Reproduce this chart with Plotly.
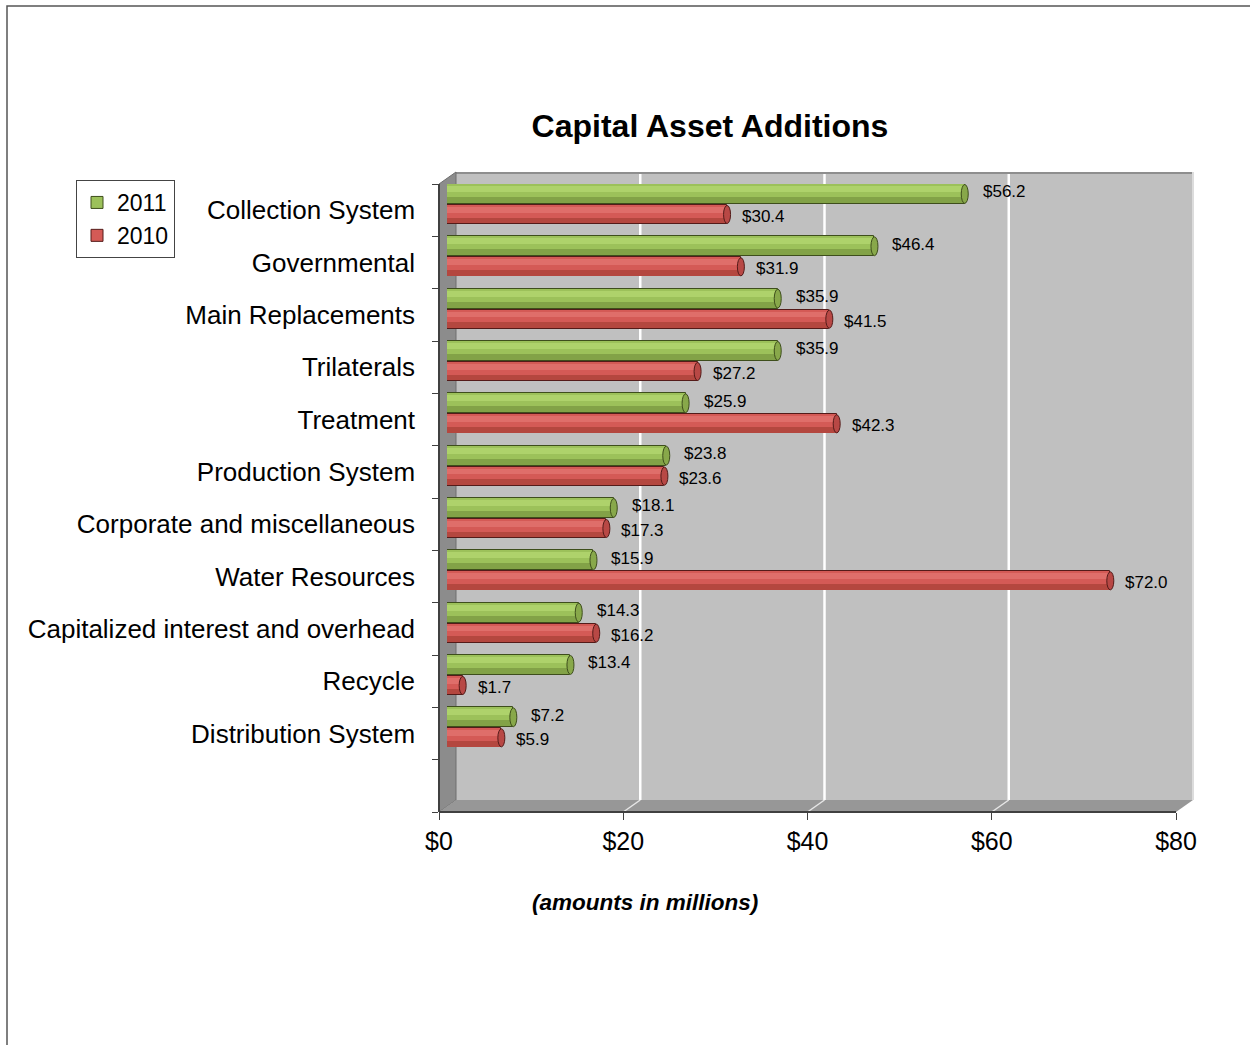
import plotly.graph_objects as go

# ---------------- data ----------------
categories = ["Collection System", "Governmental", "Main Replacements", "Trilaterals",
              "Treatment", "Production System", "Corporate and miscellaneous",
              "Water Resources", "Capitalized interest and overhead", "Recycle",
              "Distribution System"]
values_2011 = [56.2, 46.4, 35.9, 35.9, 25.9, 23.8, 18.1, 15.9, 14.3, 13.4, 7.2]
values_2010 = [30.4, 31.9, 41.5, 27.2, 42.3, 23.6, 17.3, 72.0, 16.2, 1.7, 5.9]
series_names = ["2011", "2010"]
x_tick_values = [0, 20, 40, 60, 80]
x_tick_labels = ["$0", "$20", "$40", "$60", "$80"]
gridline_values = [20, 40, 60]

# ---------------- geometry / style ----------------
W, H = 1250, 1045
FONT = "Liberation Sans, Arial, sans-serif"
XMAX = 80
N_SLOTS = len(categories) + 1          # Excel leaves one empty slot at the bottom
positions = list(range(len(categories)))

FRONT_X0, FRONT_X1 = 439, 1176
BACK_X0, BACK_X1 = 456, 1193
FRONT_Y, BACK_Y = 812, 800
TOP_FRONT, TOP_BACK = 184, 172
BAR_X0 = 447
SCALE = (FRONT_X1 - FRONT_X0) / XMAX
BAR_X1 = BAR_X0 + SCALE * XMAX


def px(x):
    return x / W


def py(y):
    return 1 - y / H


series = [
    dict(name=series_names[0], values=values_2011, off=-0.5, w=0.38,
         main="#9CC15A", light="#AED26B", dark="#82A247", edge="#3E4E1C", cap="#88A84A",
         xshift=16, yshift=2),
    dict(name=series_names[1], values=values_2010, off=-0.1, w=0.365,
         main="#D45A56", light="#DF6E6A", dark="#B4473F", edge="#541B19", cap="#B84845",
         xshift=13, yshift=-2),
]

layers = [  # (start fraction, width fraction, colour key, outline)
    (0.0, 1.0, "main", True),
    (0.66, 0.30, "dark", False),
    (0.10, 0.30, "light", False),
]

fig = go.Figure()
shapes = []
annotations = []

for s in series:
    for li, (f0, fw, ck, outline) in enumerate(layers):
        fig.add_trace(go.Bar(
            x=s["values"], y=positions, orientation="h",
            offset=s["off"] + f0 * s["w"], width=fw * s["w"],
            marker=dict(color=s[ck],
                        line=dict(color=s["edge"], width=1 if outline else 0)),
            name=s["name"], legendgroup=s["name"], showlegend=(li == 0),
            hoverinfo="skip", xaxis="x", yaxis="y"))
    for v, p in zip(s["values"], positions):
        shapes.append(dict(type="circle", xref="x", yref="y", xsizemode="pixel",
                           xanchor=v, x0=-3.5, x1=3.5,
                           y0=p + s["off"] + 0.01, y1=p + s["off"] + s["w"] - 0.01,
                           fillcolor=s["cap"], line=dict(color=s["edge"], width=1),
                           layer="above"))
        annotations.append(dict(x=v, y=p + s["off"] + s["w"] / 2, xref="x", yref="y",
                                text=f"${v:.1f}", showarrow=False, xanchor="left",
                                yanchor="middle", xshift=s["xshift"], yshift=s["yshift"],
                                font=dict(size=17, family=FONT, color="black")))

# dummy trace so the tick axis subplot exists
fig.add_trace(go.Scatter(x=[None], y=[None], xaxis="x2", yaxis="y",
                         showlegend=False, hoverinfo="skip"))

# ---- 3D walls (chart furniture) ----
def path(pts):
    return "M " + " L ".join(f"{px(a)},{py(b)}" for a, b in pts) + " Z"

shapes_below = [
    dict(type="rect", xref="paper", yref="paper", x0=px(BACK_X0), x1=px(BACK_X1),
         y0=py(BACK_Y), y1=py(TOP_BACK), fillcolor="#C0C0C0", line=dict(width=0), layer="below"),
    dict(type="line", xref="paper", yref="paper", x0=px(BACK_X0), x1=px(BACK_X1),
         y0=py(TOP_BACK + 1), y1=py(TOP_BACK + 1), line=dict(color="#8E8E8E", width=2), layer="below"),
    dict(type="line", xref="paper", yref="paper", x0=px(BACK_X1), x1=px(BACK_X1),
         y0=py(TOP_BACK), y1=py(BACK_Y), line=dict(color="#DCDCDC", width=2), layer="below"),
    dict(type="path", xref="paper", yref="paper",
         path=path([(FRONT_X0, TOP_FRONT), (BACK_X0, TOP_BACK), (BACK_X0, BACK_Y), (FRONT_X0, FRONT_Y)]),
         fillcolor="#8C8C8C", line=dict(color="#6E6E6E", width=1), layer="below"),
    dict(type="path", xref="paper", yref="paper",
         path=path([(FRONT_X0, FRONT_Y), (BACK_X0, BACK_Y), (BACK_X1, BACK_Y), (FRONT_X1, FRONT_Y)]),
         fillcolor="#979797", line=dict(width=0), layer="below"),
]
for g in gridline_values:
    bx = BACK_X0 + g * SCALE
    fx = FRONT_X0 + g * SCALE
    shapes_below.append(dict(type="line", xref="paper", yref="paper", x0=px(bx), x1=px(bx),
                             y0=py(TOP_BACK + 2), y1=py(BACK_Y), line=dict(color="white", width=2.5),
                             layer="below"))
    shapes_below.append(dict(type="line", xref="paper", yref="paper", x0=px(bx), x1=px(fx),
                             y0=py(BACK_Y), y1=py(FRONT_Y), line=dict(color="#E6E6E6", width=1.5),
                             layer="below"))
# outer chart border (only top and left edges are inside the picture)
shapes_below.append(dict(type="rect", xref="paper", yref="paper", x0=px(7), x1=1.05,
                         y0=-0.05, y1=py(6), line=dict(color="#555555", width=1.5),
                         fillcolor="rgba(0,0,0,0)", layer="below"))

annotations.append(dict(x=px(645), y=py(902), xref="paper", yref="paper",
                        text="<b><i>(amounts in millions)</i></b>", showarrow=False,
                        xanchor="center", yanchor="middle",
                        font=dict(size=22.5, family=FONT, color="black")))

fig.update_layout(
    width=W, height=H, autosize=False,
    margin=dict(l=0, r=0, t=0, b=0, pad=0, autoexpand=False),
    paper_bgcolor="white", plot_bgcolor="rgba(0,0,0,0)",
    barmode="overlay", bargap=0,
    title=dict(text="<b>Capital Asset Additions</b>", x=px(710), xanchor="center",
               y=py(126), yanchor="middle", font=dict(size=32, family=FONT, color="black")),
    xaxis=dict(domain=[px(BAR_X0), px(BAR_X1)], range=[0, XMAX], anchor="y",
               visible=False, fixedrange=True, automargin=False),
    xaxis2=dict(domain=[px(FRONT_X0), px(FRONT_X1)], range=[0, XMAX], anchor="free",
                position=py(FRONT_Y), tickmode="array", tickvals=x_tick_values,
                ticktext=x_tick_labels, ticks="outside", ticklen=7, tickwidth=1,
                tickcolor="#404040", showline=True, linecolor="#404040", linewidth=1.5,
                showgrid=False, zeroline=False, automargin=False,
                tickfont=dict(size=25, family=FONT, color="black")),
    yaxis=dict(domain=[py(FRONT_Y), py(TOP_FRONT)], range=[N_SLOTS - 0.5, -0.5],
               anchor="free", position=px(FRONT_X0), automargin=False,
               tickmode="array", tickvals=positions, ticktext=categories, ticks="",
               showline=True, linecolor="#404040", linewidth=1.5,
               minor=dict(tickmode="linear", tick0=-0.5, dtick=1, ticks="outside",
                          ticklen=6, tickwidth=1, tickcolor="#404040", showgrid=False),
               showgrid=False, zeroline=False, ticklabelstandoff=18,
               tickfont=dict(size=26, family=FONT, color="black")),
    legend=dict(x=px(76), y=py(180), xanchor="left", yanchor="top", bgcolor="white",
                bordercolor="#444444", borderwidth=1, tracegroupgap=5,
                font=dict(size=23, family=FONT, color="black"), traceorder="normal"),
    shapes=shapes_below + shapes,
    annotations=annotations,
)

fig.write_html("out.html")
